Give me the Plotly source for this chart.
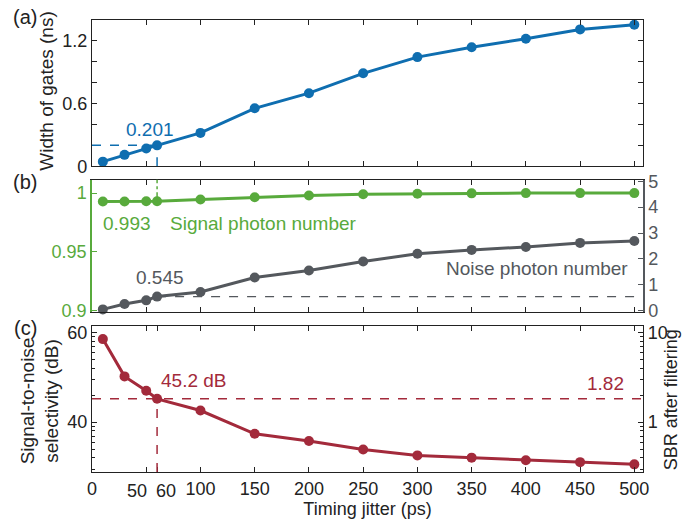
import math
import plotly.graph_objects as go

# ---------------- data ----------------
jitter = [10, 30, 50, 60, 100, 150, 200, 250, 300, 350, 400, 450, 500]
gate_width = [0.045, 0.11, 0.17, 0.201, 0.32, 0.555, 0.70, 0.89, 1.045, 1.14, 1.22, 1.31, 1.355]
signal_photon = [0.9929, 0.9929, 0.993, 0.993, 0.9945, 0.9965, 0.998, 0.9991, 0.9995, 0.9998, 1.0, 1.0, 1.0]
noise_photon = [0.05, 0.26, 0.40, 0.545, 0.72, 1.28, 1.55, 1.9, 2.2, 2.35, 2.46, 2.62, 2.69]
selectivity_db = [58.5, 50.2, 47.0, 45.2, 42.6, 37.4, 35.8, 33.9, 32.6, 32.1, 31.5, 31.1, 30.6]
x_ticks = [0, 50, 100, 150, 200, 250, 300, 350, 400, 450, 500]
x_ticks_c = [0, 50, 60, 100, 150, 200, 250, 300, 350, 400, 450, 500]
x_ticktext_c = ["0", "", "", "100", "150", "200", "250", "300", "350", "400", "450", "500"]
ref_x = 60
ref_gate = 0.201
ref_signal = 0.993
ref_noise = 0.545
ref_sel = 45.2
ref_sbr = 1.82

BLUE = "#0f6eb0"
GREEN = "#58aa3c"
GREY = "#54585d"
RED = "#a32a3b"
BLACK = "#222222"
FONT = "Arial, Liberation Sans, sans-serif"
FS = 18
FA = 19

# ---------------- layout helpers ----------------
W, H = 683, 527
L, R, T, B = 92, 40, 18, 55
PW, PH = W - L - R, H - T - B


def px(xp):
    return (xp - L) / PW


def py(yp):
    return (H - B - yp) / PH


XR = [0, 508]
db_range = [28.9, 61.5]
log_range = [(db_range[0] - 40) / 20, (db_range[1] - 40) / 20]
minor_log = [0.3, 0.4, 0.5, 0.6, 0.7, 0.8, 0.9, 2, 3, 4, 5, 6, 7, 8, 9]
minor_db = [40 + 20 * math.log10(v) for v in minor_log]

fig = go.Figure()

# (a)
fig.add_trace(go.Scatter(x=jitter, y=gate_width, mode="lines+markers", xaxis="x", yaxis="y",
                         line=dict(color=BLUE, width=3), marker=dict(color=BLUE, size=10),
                         showlegend=False, cliponaxis=False))
# (b)
fig.add_trace(go.Scatter(x=jitter, y=signal_photon, mode="lines+markers", xaxis="x2", yaxis="y2",
                         line=dict(color=GREEN, width=3), marker=dict(color=GREEN, size=10),
                         showlegend=False, cliponaxis=False))
fig.add_trace(go.Scatter(x=jitter, y=noise_photon, mode="lines+markers", xaxis="x2", yaxis="y3",
                         line=dict(color=GREY, width=3), marker=dict(color=GREY, size=10),
                         showlegend=False, cliponaxis=False))
# (c)
fig.add_trace(go.Scatter(x=jitter, y=selectivity_db, mode="lines+markers", xaxis="x3", yaxis="y4",
                         line=dict(color=RED, width=3), marker=dict(color=RED, size=10),
                         showlegend=False, cliponaxis=False))
# SBR axis activation (same curve expressed as SBR, drawn transparent)
fig.add_trace(go.Scatter(x=jitter, y=[10 ** ((v - 40) / 20) for v in selectivity_db],
                         mode="lines", xaxis="x3", yaxis="y5", line=dict(width=0),
                         opacity=0, showlegend=False, hoverinfo="skip"))

dom_a = [py(165), py(18)]
dom_b = [py(311.7), py(178.3)]
dom_c = [py(472), py(325)]

common_x = dict(range=XR, showgrid=False, zeroline=False, showline=True, linecolor=BLACK,
                linewidth=1.2, ticks="inside", ticklen=5, tickcolor=BLACK, mirror="ticks",
                domain=[0, 1], tickangle=0, tickfont=dict(family=FONT, size=FS, color=BLACK))

fig.update_layout(
    width=W, height=H, margin=dict(l=L, r=R, t=T, b=B),
    paper_bgcolor="white", plot_bgcolor="white",
    font=dict(family=FONT, size=FS, color=BLACK),
    xaxis=dict(common_x, anchor="y", tickvals=x_ticks, showticklabels=False),
    xaxis2=dict(common_x, anchor="y2", tickvals=x_ticks, showticklabels=False),
    xaxis3=dict(common_x, anchor="y4", tickvals=x_ticks_c, ticktext=x_ticktext_c,
                showticklabels=True,
                title=dict(text="Timing jitter (ps)", font=dict(family=FONT, size=FS, color=BLACK),
                           standoff=2)),
    yaxis=dict(domain=dom_a, anchor="x", range=[0, 1.4], showgrid=False, zeroline=False,
               showline=True, linecolor=BLACK, linewidth=1.2, mirror="ticks", ticks="inside",
               ticklen=5, tickcolor=BLACK,
               tickvals=[0, 0.2, 0.4, 0.6, 0.8, 1.0, 1.2],
               ticktext=["0", "", "", "0.6", "", "", "1.2"],
               tickfont=dict(family=FONT, size=FS, color=BLACK)),
    yaxis2=dict(domain=dom_b, anchor="x2", range=[0.8985, 1.0115], showgrid=False,
                zeroline=False, showline=True, linecolor=GREEN, linewidth=1.5, ticks="inside",
                ticklen=5, tickcolor=GREEN, tickvals=[0.9, 0.95, 1.0],
                ticktext=["0.9", "0.95", "1"],
                tickfont=dict(family=FONT, size=FS, color=GREEN)),
    yaxis3=dict(overlaying="y2", side="right", anchor="x2", range=[-0.066, 5.066],
                showgrid=False, zeroline=False, showline=True, linecolor=GREY, linewidth=1.5,
                ticks="inside", ticklen=5, tickcolor=GREY, tickvals=[0, 1, 2, 3, 4, 5],
                tickfont=dict(family=FONT, size=FS, color=GREY)),
    yaxis4=dict(domain=dom_c, anchor="x3", range=db_range, showgrid=False, zeroline=False,
                showline=True, linecolor=BLACK, linewidth=1.2, ticks="inside", ticklen=5,
                tickcolor=BLACK, tickvals=[40, 60],
                minor=dict(tickvals=minor_db, ticks="inside", ticklen=3, tickcolor=BLACK,
                           showgrid=False),
                tickfont=dict(family=FONT, size=FS, color=BLACK)),
    yaxis5=dict(overlaying="y4", side="right", anchor="x3", type="log", range=log_range,
                showgrid=False, zeroline=False, showline=True, linecolor=BLACK, linewidth=1.2,
                ticks="inside", ticklen=5, tickcolor=BLACK, tickvals=[1, 10],
                ticktext=["1", "10"],
                minor=dict(tickvals=minor_log, ticks="inside", ticklen=3, tickcolor=BLACK,
                           showgrid=False),
                tickfont=dict(family=FONT, size=FS, color=BLACK)),
)

# ---------------- reference dashed lines ----------------
shapes = [
    dict(type="line", xref="x", yref="y", x0=0, x1=ref_x, y0=ref_gate, y1=ref_gate,
         line=dict(color=BLUE, width=1.5, dash="dash")),
    dict(type="line", xref="x", yref="y", x0=ref_x, x1=ref_x, y0=0, y1=ref_gate,
         line=dict(color=BLUE, width=1.5, dash="dash")),
    dict(type="line", xref="x2", yref="y2", x0=ref_x, x1=ref_x, y0=ref_signal, y1=1.0115,
         line=dict(color=GREEN, width=1.5, dash="dashdot")),
    dict(type="line", xref="x2", yref="y3", x0=ref_x, x1=XR[1], y0=ref_noise, y1=ref_noise,
         line=dict(color=GREY, width=1.2, dash="dash")),
    dict(type="line", xref="x3", yref="y4", x0=0, x1=XR[1], y0=ref_sel, y1=ref_sel,
         line=dict(color=RED, width=1.5, dash="dash")),
    dict(type="line", xref="x3", yref="y4", x0=ref_x, x1=ref_x, y0=db_range[0], y1=ref_sel,
         line=dict(color=RED, width=1.5, dash="dash")),
]
fig.update_layout(shapes=shapes)


def ann(text, xp, yp, color, xanchor="center", size=FA, angle=0):
    fig.add_annotation(text=text, x=px(xp), y=py(yp), xref="paper", yref="paper",
                       xanchor=xanchor, yanchor="middle", showarrow=False, textangle=angle,
                       font=dict(family=FONT, size=size, color=color))


ann("0.201", 150, 128, BLUE)
ann("0.993", 127, 222, GREEN)
ann("Signal photon number", 168, 222, GREEN, xanchor="left")
ann("0.545", 160, 277, GREY)
ann("Noise photon number", 630, 268, GREY, xanchor="right")
ann("45.2 dB", 194, 380, RED)
ann("1.82", 626, 383, RED, xanchor="right")
ann("(a)", 25, 15, BLACK, size=20)
ann("(b)", 25, 181, BLACK, size=20)
ann("(c)", 25, 327, BLACK, size=20)
ann("Width of gates (ns)", 47, 90, BLACK, angle=-90)
ann("Signal-to-noise<br>selectivity (dB)", 40, 400, BLACK, angle=-90)
ann("SBR after filtering", 671, 400, BLACK, size=18, angle=-90)
# crowded tick labels at 50 and 60, nudged apart as in the original
ann("50", 137, 491, BLACK, size=FS)
ann("60", 166, 491, BLACK, size=FS)

fig.write_html("out.html")
